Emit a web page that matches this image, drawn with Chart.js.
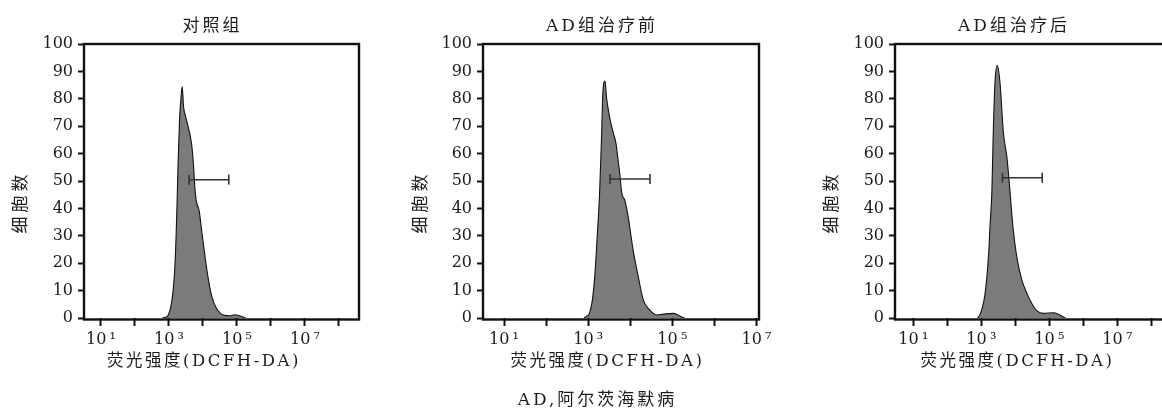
<!DOCTYPE html>
<html><head><meta charset="utf-8">
<script src="https://cdn.jsdelivr.net/npm/chart.js@4.4.1/dist/chart.umd.min.js"></script>
<style>
html,body{margin:0;padding:0;background:#fff;width:1162px;height:411px;overflow:hidden;position:relative}
canvas{position:absolute;top:0}
</style></head><body>
<canvas id="c1" style="left:0px"></canvas>
<canvas id="c2" style="left:400px"></canvas>
<canvas id="c3" style="left:811px"></canvas>
<script>
// ---------- data ----------
const panelTitles = ['对照组', 'AD组治疗前', 'AD组治疗后'];
const xAxisTitle = '荧光强度(DCFH-DA)';
const yAxisTitle = '细胞数';
const footnote = 'AD,阿尔茨海默病';

const xTickValues = [10, 100, 1e3, 1e4, 1e5, 1e6, 1e7, 1e8];
const xTickLabels = ['10\u2009¹', '', '10\u2009³', '', '10\u2009⁵', '', '10\u2009⁷', ''];
const yTickStep = 10;

// Control group histogram (fluorescence intensity, cell count)
const controlIntensity = [631, 794, 955, 1150, 1320, 1480, 1620, 1740, 1860, 2040, 2240, 2450, 2690, 3020, 3720, 4680, 5250, 5750, 6310, 7760, 9120, 11500, 14500, 18200, 25100, 39800, 61700, 87100, 123000, 182000];
const controlCount     = [0, 0.3, 1.1, 4.5, 10, 18, 30, 43, 57, 72, 80, 84.5, 77, 74, 69.5, 63, 56, 48, 43, 39, 32, 22.4, 13.9, 7.8, 3.5, 1.1, 0.8, 1.2, 0.7, 0];

// AD group before treatment
const preIntensity = [794, 891, 1070, 1260, 1450, 1620, 1860, 2090, 2190, 2340, 2510, 2750, 3020, 3470, 3980, 4570, 5010, 5620, 6310, 7410, 8910, 11700, 15500, 20400, 26900, 42700, 61700, 105000, 138000, 166000, 200000];
const preCount     = [0, 0.5, 1.7, 6.6, 16.3, 28.5, 45, 67, 79, 85.7, 86.5, 80, 75.9, 71, 67.4, 63.8, 59, 52.8, 45.5, 43, 37, 24.8, 15.1, 6.6, 3.5, 1.1, 1.4, 1.7, 1.1, 0.4, 0];

// AD group after treatment
const postIntensity = [759, 813, 1020, 1290, 1620, 1820, 2040, 2240, 2510, 2950, 3550, 4470, 5620, 6920, 7410, 8710, 11000, 15500, 21900, 30200, 42700, 66100, 132000, 182000, 257000, 302000];
const postCount     = [0, 0.2, 2.9, 9, 22.4, 34.6, 46, 67.4, 85.7, 92.1, 85.7, 67.4, 58.9, 46.7, 41.9, 32, 22.4, 13.9, 9.0, 5.4, 2.7, 1.7, 1.9, 1.4, 0.4, 0];

// Gate markers (start, end intensity) and their level
const controlGate = [3890, 57500]; const controlGateLevel = 50.5;
const preGate     = [3310, 29500]; const preGateLevel     = 50.7;
const postGate    = [4170, 61700]; const postGateLevel    = 51.2;

// ---------- rendering ----------
const SERIF = '"DejaVu Serif", "Noto Sans CJK SC"';
const TEXT = '#1c1c1c';

const textPlugin = {
  id: 'panelText',
  afterDraw(chart, args, opts) {
    const ctx = chart.ctx;
    (opts.items || []).forEach(it => {
      ctx.save();
      ctx.font = it.font;
      ctx.fillStyle = TEXT;
      ctx.letterSpacing = it.spacing || '0px';
      ctx.textAlign = 'center';
      ctx.textBaseline = 'middle';
      ctx.translate(it.x, it.y);
      if (it.rotate) ctx.rotate(it.rotate);
      ctx.fillText(it.text, 0, 0);
      ctx.restore();
    });
  }
};

const boxPlugin = {
  id: 'frameBox',
  afterDatasetsDraw(chart) {
    const {ctx, chartArea: a} = chart;
    ctx.save();
    ctx.strokeStyle = '#111';
    ctx.lineWidth = 2.4;
    ctx.strokeRect(a.left, a.top, a.right - a.left, a.bottom - a.top + 1.5);
    ctx.restore();
  }
};

function makeChart(id, cfg) {
  const canvas = document.getElementById(id);
  canvas.width = cfg.width; canvas.height = 411;
  canvas.style.width = cfg.width + 'px'; canvas.style.height = '411px';
  const xmin = Math.pow(10, cfg.xMinExp), xmax = Math.pow(10, cfg.xMaxExp);
  const curve = cfg.intensity.map((x, i) => ({x, y: cfg.count[i]}));
  const gate = cfg.gate.map(x => ({x, y: cfg.gateLevel}));
  const items = [
    {text: cfg.title, x: cfg.titleX, y: 27, font: '17px ' + SERIF, spacing: '3px'},
    {text: xAxisTitle, x: cfg.xTitleX, y: 362, font: '16.5px ' + SERIF, spacing: '2.5px'},
    {text: yAxisTitle, x: 21.5, y: 202, font: '17px ' + SERIF, spacing: '4px', rotate: -Math.PI / 2}
  ].concat(cfg.extra || []);
  return new Chart(canvas, {
    type: 'line',
    data: {
      datasets: [
        {data: gate, borderColor: '#333', borderWidth: 1.5, fill: false,
         pointStyle: 'line', rotation: 90, pointRadius: 5, pointBorderWidth: 1.6,
         pointBorderColor: '#333', pointHoverRadius: 5, order: 0},
        {data: curve, borderColor: '#111', borderWidth: 1.1, backgroundColor: '#7b7b7b',
         fill: 'origin', pointRadius: 0, cubicInterpolationMode: 'monotone', order: 1}
      ]
    },
    options: {
      responsive: false, animation: false, devicePixelRatio: 1,
      layout: {padding: {top: 44, left: 0, right: cfg.padRight, bottom: 43}},
      plugins: {legend: {display: false}, tooltip: {enabled: false}, title: {display: false},
                panelText: {items}},
      scales: {
        x: {
          type: 'logarithmic', min: xmin, max: xmax,
          afterBuildTicks: s => { s.ticks = xTickValues.filter(v => v >= xmin && v <= xmax).map(v => ({value: v})); },
          afterFit: s => { s.height = 50; },
          border: {display: false},
          grid: {drawOnChartArea: false, drawTicks: true, tickLength: 8, tickWidth: 2, tickColor: '#111'},
          ticks: {autoSkip: false, maxRotation: 0, padding: 4, color: TEXT,
                  font: {family: SERIF, size: 16},
                  callback: v => { const k = xTickValues.indexOf(v); return k >= 0 ? xTickLabels[k] : ''; }}
        },
        y: {
          min: 0, max: 100,
          afterFit: s => { s.width = cfg.yWidth; },
          border: {display: false},
          grid: {drawOnChartArea: false, drawTicks: true, tickLength: 6, tickWidth: 2, tickColor: '#111'},
          ticks: {stepSize: yTickStep, padding: 5, color: TEXT, font: {family: SERIF, size: 16}}
        }
      }
    },
    plugins: [boxPlugin, textPlugin]
  });
}

makeChart('c1', {width: 400, yWidth: 84, padRight: 41, xMinExp: 0.5, xMaxExp: 8.59,
  title: panelTitles[0], titleX: 212.5, xTitleX: 204,
  intensity: controlIntensity, count: controlCount, gate: controlGate, gateLevel: controlGateLevel});
makeChart('c2', {width: 400, yWidth: 83, padRight: 41, xMinExp: 0.5, xMaxExp: 7.06,
  title: panelTitles[1], titleX: 202, xTitleX: 207.5,
  intensity: preIntensity, count: preCount, gate: preGate, gateLevel: preGateLevel,
  extra: [{text: footnote, x: 197.5, y: 401, font: '17px ' + SERIF, spacing: '3px'}]});
makeChart('c3', {width: 389, yWidth: 84, padRight: 30, xMinExp: 0.46, xMaxExp: 8.55,
  title: panelTitles[2], titleX: 203, xTitleX: 206.5,
  intensity: postIntensity, count: postCount, gate: postGate, gateLevel: postGateLevel});
</script>
</body></html>
